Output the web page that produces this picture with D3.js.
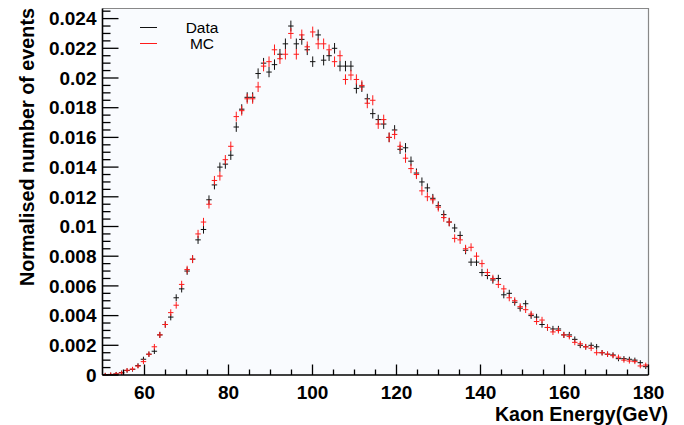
<!DOCTYPE html>
<html>
<head>
<meta charset="utf-8">
<script src="https://cdn.jsdelivr.net/npm/d3@7"></script>
<style>
  body { margin: 0; background: #fff; }
  svg { display: block; font-family: "Liberation Sans", Arial, sans-serif; }
</style>
</head>
<body>
<div id="chart"></div>
<script>
// histogram binning (GeV)
const xMin = 50, xMax = 180, nBins = 100;

// normalised counts per bin
const dataVals = [
  0.00002, 0.00003, 0.00007, 0.00016, 0.0003, 0.00038, 0.00063, 0.00106, 0.0014, 0.0016,
  0.0027, 0.0034, 0.0039, 0.0052, 0.0058, 0.0070, 0.0078, 0.0091, 0.0098, 0.0118,
  0.0128, 0.0140, 0.0142, 0.0148, 0.0167, 0.0179, 0.0187, 0.0187, 0.0203, 0.0210,
  0.0204, 0.0209, 0.0216, 0.0223, 0.0235, 0.0223, 0.0226, 0.0219, 0.0211, 0.0229,
  0.0212, 0.0215, 0.0220, 0.0208, 0.0208, 0.0208, 0.0193, 0.0194, 0.0186, 0.0176,
  0.0172, 0.0169, 0.0160, 0.0165, 0.0152, 0.0153, 0.0144, 0.0136, 0.0130, 0.0126,
  0.0119, 0.0114, 0.0108, 0.0103, 0.0099, 0.0094, 0.0084, 0.0076, 0.0076, 0.0069,
  0.0067, 0.0064, 0.0065, 0.0054, 0.0055, 0.0049, 0.0045, 0.0048, 0.0040, 0.0039,
  0.0034, 0.0032, 0.0031, 0.0031, 0.0027, 0.0027, 0.0024, 0.0020, 0.0019, 0.0020,
  0.0019, 0.0015, 0.0014, 0.00135, 0.0011, 0.0011, 0.00106, 0.0010, 0.00083, 0.00056
];
const mcVals = [
  0.00001, 0.00004, 0.00007, 0.00014, 0.00032, 0.0004, 0.0006, 0.0009, 0.0014, 0.0019,
  0.0027, 0.0034, 0.0042, 0.0047, 0.0061, 0.0071, 0.0078, 0.0095, 0.0103, 0.0115,
  0.0131, 0.0134, 0.0145, 0.0154, 0.0174, 0.0178, 0.0186, 0.0186, 0.0194, 0.0208,
  0.0211, 0.0219, 0.0213, 0.0216, 0.0230, 0.0216, 0.0229, 0.0221, 0.0231, 0.0223,
  0.0223, 0.0219, 0.0211, 0.0215, 0.0199, 0.0202, 0.0199, 0.0195, 0.0183, 0.0185,
  0.0169, 0.0172, 0.0160, 0.0162, 0.0154, 0.0146, 0.0139, 0.0135, 0.0124, 0.0120,
  0.0118, 0.0113, 0.0106, 0.0103, 0.0092, 0.0091, 0.0085, 0.0086, 0.0080, 0.0075,
  0.0069, 0.0065, 0.0061, 0.0058, 0.0052, 0.0050, 0.0046, 0.0044, 0.0041, 0.0036,
  0.0037, 0.0032, 0.0029, 0.0030, 0.0027, 0.0026, 0.0022, 0.0021, 0.0019, 0.0018,
  0.0015, 0.0015, 0.0014, 0.0013, 0.0012, 0.0010, 0.00094, 0.0009, 0.00061, 0.00067
];

const xTicks = [60, 80, 100, 120, 140, 160, 180];
const yTicks = [0, 0.002, 0.004, 0.006, 0.008, 0.01, 0.012, 0.014, 0.016, 0.018, 0.02, 0.022, 0.024];
const yTickLabels = ["0", "0.002", "0.004", "0.006", "0.008", "0.01", "0.012", "0.014", "0.016", "0.018", "0.02", "0.022", "0.024"];

const W = 684, H = 425;
const padL = 102.5, padR = 648.5, padT = 8.5, padB = 375;

const svg = d3.select("#chart").append("svg")
  .attr("width", W)
  .attr("height", H);

const x = d3.scaleLinear().domain([xMin, xMax]).range([padL, padR]);
const y = d3.scaleLinear().domain([0, 0.02468]).range([padB, padT]);
const bw = (xMax - xMin) / nBins;

// pad background + frame
svg.append("rect")
  .attr("x", padL).attr("y", padT)
  .attr("width", padR - padL).attr("height", padB - padT)
  .attr("fill", "#f9fbfe");
svg.append("path")
  .attr("d", `M${padL},${padT}H${padR}V${padB}`)
  .attr("fill", "none").attr("stroke", "#888").attr("stroke-width", 1.2);

// error bars (stat errors shown as crosses)
function errOf(v) { return 0.00012 + 0.0016 * Math.sqrt(v); }

function drawSeries(vals, color) {
  const g = svg.append("g")
    .attr("stroke", color)
    .attr("stroke-width", 1)
    .attr("fill", "none");
  const pts = vals.map((v, i) => ({ lo: xMin + i * bw, v: v }));
  g.selectAll("path.h")
    .data(pts)
    .enter().append("path")
    .attr("d", d => `M${x(d.lo)},${y(d.v)}H${x(d.lo + bw)}`);
  g.selectAll("path.v")
    .data(pts)
    .enter().append("path")
    .attr("d", d => {
      const e = errOf(d.v);
      const cx = x(d.lo + bw / 2);
      return `M${cx},${y(Math.max(0, d.v - e))}V${y(d.v + e)}`;
    });
}
drawSeries(dataVals, "#111");
drawSeries(mcVals, "#ff1a1a");

// axes
const xAxis = svg.append("g");
xAxis.append("line")
  .attr("x1", padL).attr("x2", padR).attr("y1", padB).attr("y2", padB)
  .attr("stroke", "#000").attr("stroke-width", 1.6);
const xMinor = d3.range(55, 180, 5).filter(t => xTicks.indexOf(t) < 0);
xAxis.selectAll("line.mi")
  .data(xMinor).enter().append("line")
  .attr("x1", d => x(d)).attr("x2", d => x(d))
  .attr("y1", padB).attr("y2", padB - 5.5)
  .attr("stroke", "#000").attr("stroke-width", 1.3);
xAxis.selectAll("line.ma")
  .data(xTicks).enter().append("line")
  .attr("x1", d => x(d)).attr("x2", d => x(d))
  .attr("y1", padB).attr("y2", padB - 10.5)
  .attr("stroke", "#000").attr("stroke-width", 1.3);
xAxis.selectAll("text")
  .data(xTicks).enter().append("text")
  .attr("x", d => x(d)).attr("y", 398.5)
  .attr("text-anchor", "middle")
  .attr("font-size", 19).attr("font-weight", "bold")
  .text(d => d);

const yAxis = svg.append("g");
yAxis.append("line")
  .attr("x1", padL).attr("x2", padL).attr("y1", padB).attr("y2", padT)
  .attr("stroke", "#000").attr("stroke-width", 1.6);
const yMinor = d3.range(0.0005, 0.0246, 0.0005).filter((t, i) => (i + 1) % 4 !== 0);
yAxis.selectAll("line.mi")
  .data(yMinor).enter().append("line")
  .attr("x1", padL).attr("x2", padL + 8)
  .attr("y1", d => y(d)).attr("y2", d => y(d))
  .attr("stroke", "#000").attr("stroke-width", 1.3);
yAxis.selectAll("line.ma")
  .data(yTicks).enter().append("line")
  .attr("x1", padL).attr("x2", padL + 16)
  .attr("y1", d => y(d)).attr("y2", d => y(d))
  .attr("stroke", "#000").attr("stroke-width", 1.3);
yAxis.selectAll("text")
  .data(yTicks).enter().append("text")
  .attr("x", 96.5).attr("y", d => y(d) + 6.8)
  .attr("text-anchor", "end")
  .attr("font-size", 19).attr("font-weight", "bold")
  .text((d, i) => yTickLabels[i]);

// axis titles
svg.append("text")
  .attr("x", 668).attr("y", 421)
  .attr("text-anchor", "end")
  .attr("font-size", 19.6).attr("font-weight", "bold")
  .text("Kaon Energy(GeV)");
svg.append("text")
  .attr("transform", "translate(33.5,8) rotate(-90)")
  .attr("text-anchor", "end")
  .attr("font-size", 19.8).attr("font-weight", "bold")
  .text("Normalised number of events");

// legend
const legend = [
  { name: "Data", color: "#111", y: 27.5 },
  { name: "MC", color: "#ff1a1a", y: 43.5 }
];
const lg = svg.append("g");
lg.selectAll("line")
  .data(legend).enter().append("line")
  .attr("x1", 140).attr("x2", 157)
  .attr("y1", d => d.y).attr("y2", d => d.y)
  .attr("stroke", d => d.color).attr("stroke-width", 1);
lg.selectAll("text")
  .data(legend).enter().append("text")
  .attr("x", 202).attr("y", d => d.y + 5.4)
  .attr("text-anchor", "middle")
  .attr("font-size", 15.5)
  .text(d => d.name);
</script>
</body>
</html>
